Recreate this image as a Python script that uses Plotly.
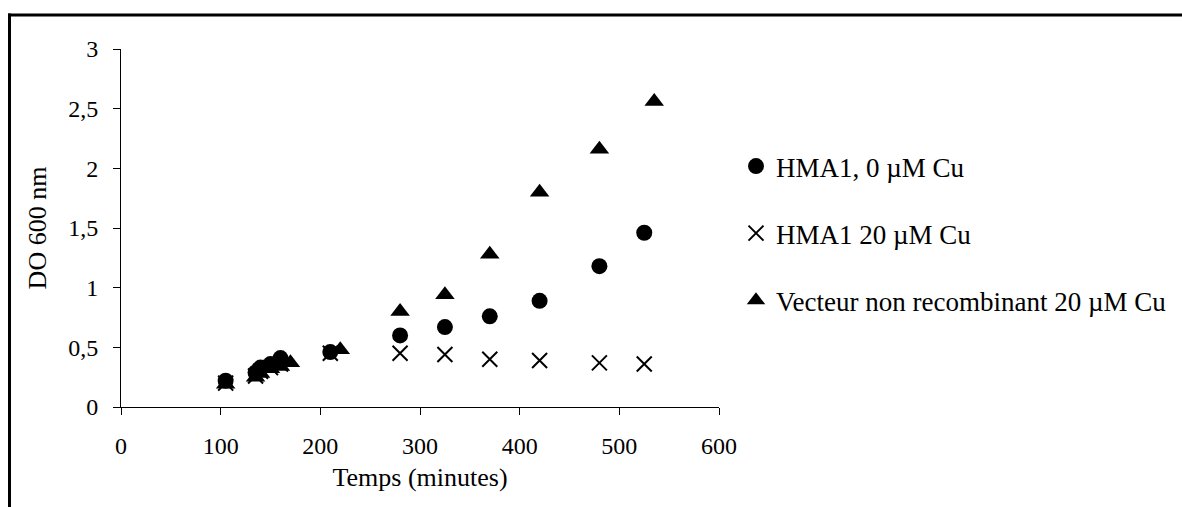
import plotly.graph_objects as go

# Data
t_hma1_0 = [105, 135, 140, 150, 160, 210, 280, 325, 370, 420, 480, 525]
v_hma1_0 = [0.22, 0.29, 0.33, 0.36, 0.41, 0.46, 0.60, 0.67, 0.76, 0.89, 1.18, 1.46]

t_hma1_20 = [105, 135, 140, 150, 160, 210, 280, 325, 370, 420, 480, 525]
v_hma1_20 = [0.20, 0.26, 0.30, 0.33, 0.36, 0.45, 0.45, 0.44, 0.40, 0.39, 0.37, 0.36]

t_vect = [105, 135, 140, 150, 160, 170, 220, 280, 325, 370, 420, 480, 535]
v_vect = [0.19, 0.25, 0.28, 0.32, 0.34, 0.37, 0.48, 0.80, 0.94, 1.28, 1.80, 2.16, 2.56]

names = ["HMA1, 0 \u00b5M Cu", "HMA1 20 \u00b5M Cu", "Vecteur non recombinant 20 \u00b5M Cu"]
x_ticks = [0, 100, 200, 300, 400, 500, 600]
y_ticks = [0, 0.5, 1, 1.5, 2, 2.5, 3]

FONT = "Liberation Serif"

fig = go.Figure()
fig.add_trace(go.Scatter(x=t_hma1_0, y=v_hma1_0, mode="markers", name=names[0],
                         legendgroup="a",
                         marker=dict(symbol="circle", size=16, color="black")))
fig.add_trace(go.Scatter(x=t_hma1_20, y=v_hma1_20, mode="markers", name=names[1],
                         legendgroup="b",
                         marker=dict(symbol="x-thin-open", size=15, color="black",
                                     line=dict(color="black", width=2))))
fig.add_trace(go.Scatter(x=t_vect, y=v_vect, mode="markers", name=names[2],
                         legendgroup="c",
                         marker=dict(symbol="triangle-up", size=17, color="black")))

L, R, T, B = 121, 463, 49, 100
W, H = 1182, 507
pw, ph = W - L - R, H - T - B

def px(xp):
    return (xp - L) / pw

def py(yp):
    return (H - B - yp) / ph

tickfont = dict(family=FONT, size=24, color="black")
titlefont = dict(family=FONT, size=26, color="black")

fig.update_layout(
    width=W, height=H,
    margin=dict(l=L, r=R, t=T, b=B, autoexpand=False),
    paper_bgcolor="white", plot_bgcolor="white",
    separators=", ",
    font=dict(family=FONT, size=24, color="black"),
    showlegend=True,
    legend=dict(x=px(736), y=py(142), xanchor="left", yanchor="top",
                font=dict(family=FONT, size=27, color="black"),
                tracegroupgap=29, traceorder="grouped",
                bgcolor="rgba(0,0,0,0)"),
    xaxis=dict(range=[0, 600], tickvals=x_ticks, ticks="outside", ticklen=7,
               tickcolor="black", showline=True, linecolor="black", linewidth=1,
               showgrid=False, zeroline=False, tickfont=tickfont,
               ticklabelstandoff=10,
               title=dict(text="Temps (minutes)", standoff=10, font=titlefont)),
    yaxis=dict(range=[0, 3], tickvals=y_ticks, ticks="outside", ticklen=7,
               tickcolor="black", showline=True, linecolor="black", linewidth=1,
               showgrid=False, zeroline=False, tickfont=tickfont,
               ticklabelstandoff=10,
               title=dict(text="DO 600 nm", standoff=14, font=titlefont)),
    shapes=[
        dict(type="line", xref="paper", yref="paper", x0=px(8), x1=px(1185),
             y0=py(15), y1=py(15), line=dict(color="black", width=3)),
        dict(type="line", xref="paper", yref="paper", x0=px(9.5), x1=px(9.5),
             y0=py(13.5), y1=py(510), line=dict(color="black", width=3)),
    ],
)

fig.write_html("out.html", config={"displayModeBar": False},
               post_script="document.body.style.margin='0';")
